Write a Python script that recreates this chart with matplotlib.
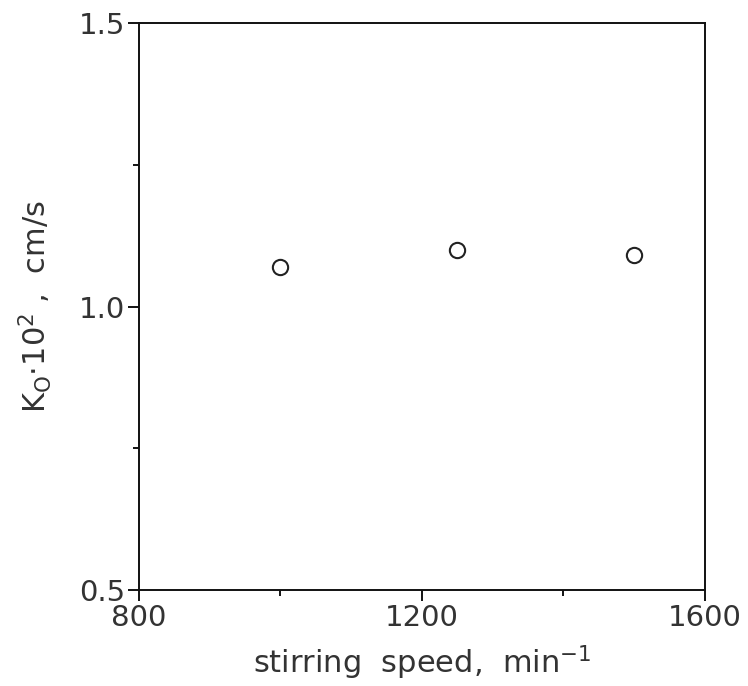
import matplotlib.pyplot as plt
from matplotlib.ticker import MultipleLocator

# stirring speed (min^-1) and K_O * 10^2 (cm/s)
speed = [1000, 1250, 1500]
k_o = [1.069, 1.100, 1.090]

plt.rcParams['font.family'] = ['DejaVu Sans']
plt.rcParams['mathtext.default'] = 'regular'

fig = plt.figure(figsize=(7.48, 6.86), dpi=100)
ax = fig.add_axes([0.1858, 0.1399, 0.9425 - 0.1858, 0.9665 - 0.1399])

ax.plot(speed, k_o, linestyle='none', marker='o', markersize=11,
        markerfacecolor='none', markeredgecolor='#222222', markeredgewidth=1.5)

ax.set_xlim(800, 1600)
ax.set_ylim(0.5, 1.5)
ax.xaxis.set_major_locator(MultipleLocator(400))
ax.xaxis.set_minor_locator(MultipleLocator(200))
ax.yaxis.set_major_locator(MultipleLocator(0.5))
ax.yaxis.set_minor_locator(MultipleLocator(0.25))
ax.yaxis.set_major_formatter(plt.FormatStrFormatter('%.1f'))

for s in ax.spines.values():
    s.set_linewidth(1.4)
    s.set_color('#111111')

ax.tick_params(which='major', direction='out', length=8, width=1.3,
               labelsize=21, labelcolor='#333333', pad=2)
ax.tick_params(which='minor', direction='out', length=4, width=1.3)
ax.tick_params(top=False, right=False)

ax.set_xlabel('stirring  speed,  min$^{-1}$', fontsize=22, color='#333333', labelpad=8)
ax.set_ylabel('K$_{O}$$\\cdot$10$^{2}$ ,  cm/s', fontsize=22, color='#333333', labelpad=18)

fig.savefig('out.png', dpi=100)
